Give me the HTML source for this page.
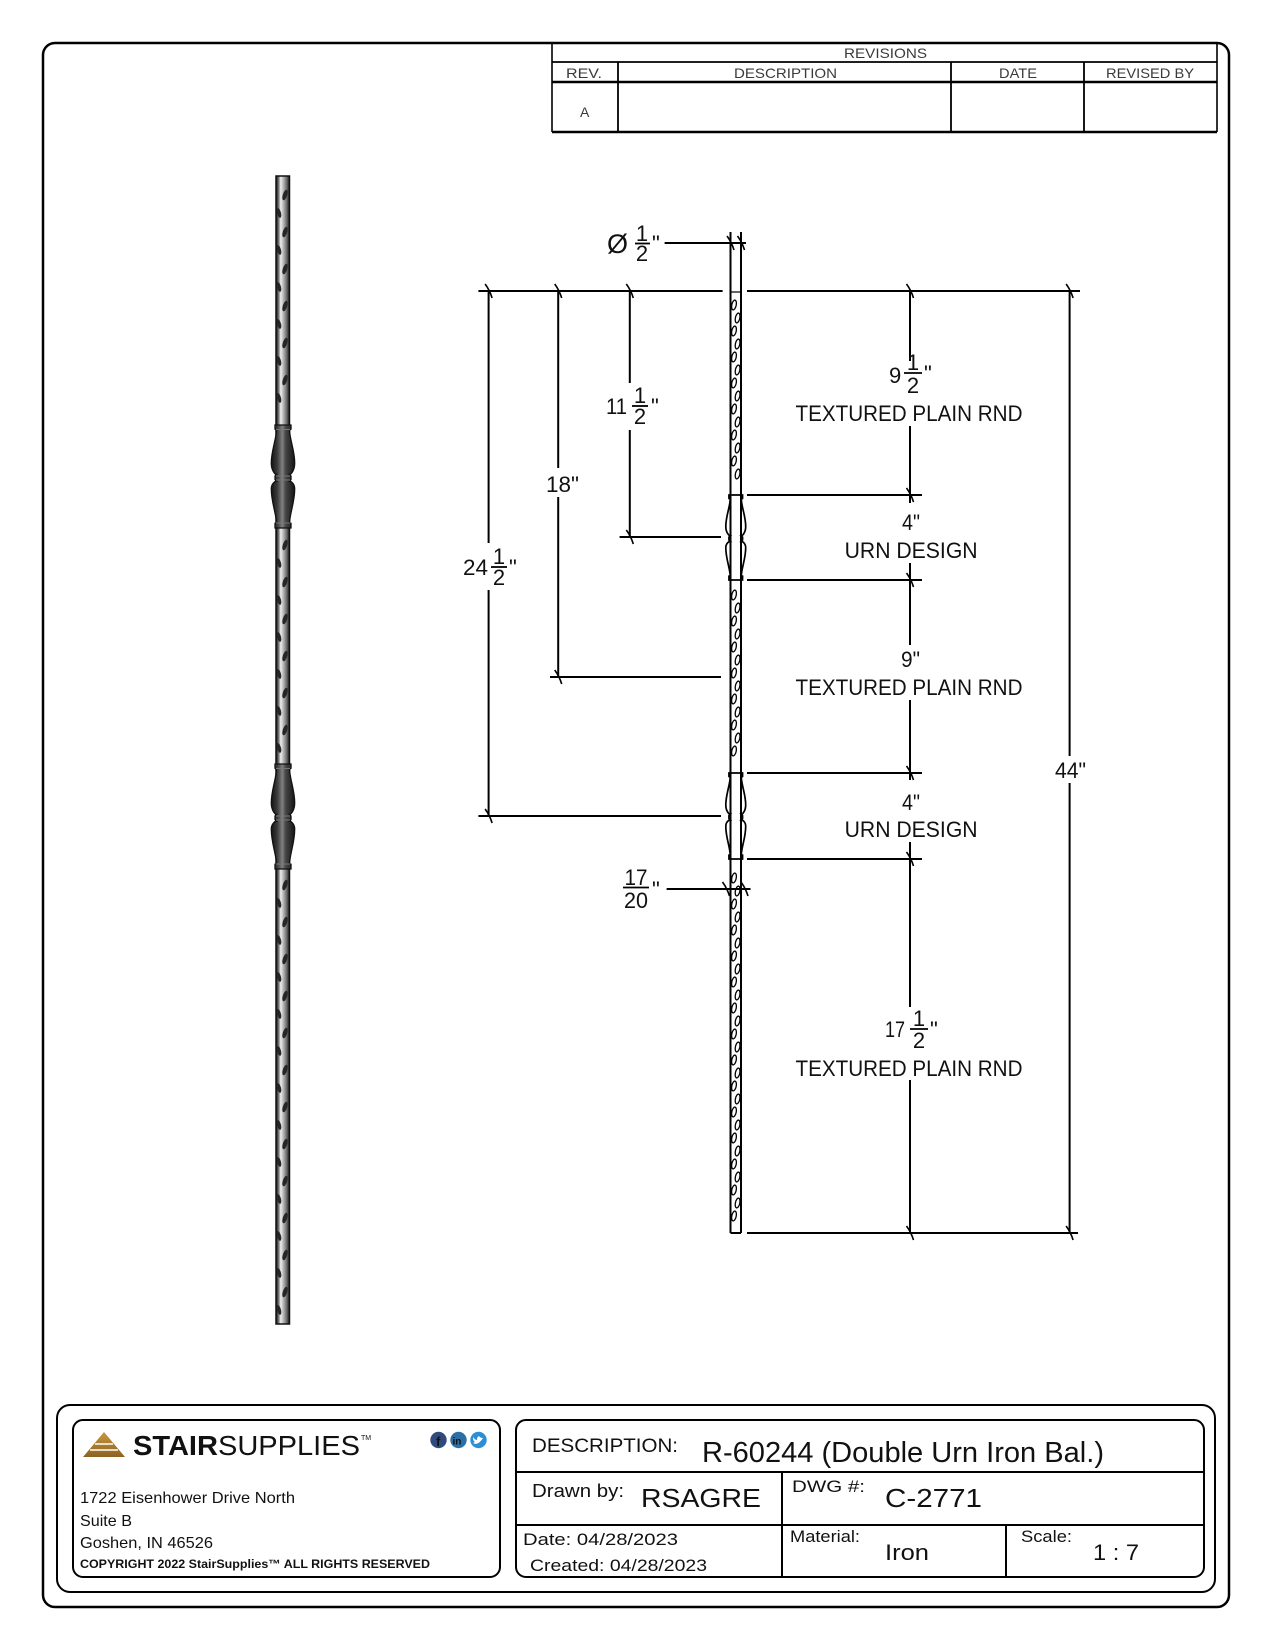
<!DOCTYPE html>
<html><head><meta charset="utf-8"><style>
html,body{margin:0;padding:0;background:#fff;}
svg{display:block;}
text{font-family:"Liberation Sans",Arial,sans-serif;fill:#111;}
.rv{fill:#3a3a3a;font-size:14px;}
.dm{font-size:22px;fill:#111;}
</style></head><body>
<svg width="1275" height="1650" viewBox="0 0 1275 1650" xmlns="http://www.w3.org/2000/svg">
<defs>
<linearGradient id="shaft" x1="0" x2="1" y1="0" y2="0">
<stop offset="0" stop-color="#1a1a1a"/><stop offset="0.15" stop-color="#555"/><stop offset="0.35" stop-color="#eee"/><stop offset="0.55" stop-color="#b5b5b5"/><stop offset="0.8" stop-color="#6a6a6a"/><stop offset="1" stop-color="#1a1a1a"/>
</linearGradient>
<linearGradient id="urnG" x1="0" x2="1" y1="0" y2="0">
<stop offset="0" stop-color="#151515"/><stop offset="0.25" stop-color="#3a3a3a"/><stop offset="0.47" stop-color="#808080"/><stop offset="0.62" stop-color="#454545"/><stop offset="1" stop-color="#151515"/>
</linearGradient>
<linearGradient id="gold" x1="0" x2="0" y1="0" y2="1">
<stop offset="0" stop-color="#c9973d"/><stop offset="1" stop-color="#8c6322"/>
</linearGradient>
<path id="urn" d="M0,0 L8,0 L8,4 L6.5,5 C7,15 11.7,25 11.7,37 C11.7,44 8,48 6.5,48 L8,49.5 L8,53 L6.5,54.5 C8,54.5 11.7,57 11.7,62 C11.7,75 7,85 6.5,95 L8,95.5 L8,100 L-8,100 L-8,95.5 L-6.5,95 C-7,85 -11.7,75 -11.7,62 C-11.7,57 -8,54.5 -6.5,54.5 L-8,53 L-8,49.5 L-6.5,48 C-8,48 -11.7,44 -11.7,37 C-11.7,25 -7,15 -6.5,5 L-8,4 L-8,0 Z"/>
<path id="tk" d="M-3.5,-7 Q1,-1 3.5,7" stroke="#000" stroke-width="1.6" fill="none"/>
</defs>

<!-- outer border -->
<rect x="43" y="43" width="1186" height="1564" rx="12" ry="12" fill="none" stroke="#000" stroke-width="2.5"/>

<!-- revisions table -->
<g stroke="#000" fill="none">
<line x1="552" y1="43" x2="552" y2="132" stroke-width="1.6"/>
<line x1="1217" y1="43" x2="1217" y2="132" stroke-width="1.6"/>
<line x1="552" y1="62" x2="1217" y2="62" stroke-width="1.8"/>
<line x1="552" y1="82" x2="1217" y2="82" stroke-width="2.5"/>
<line x1="552" y1="132" x2="1217" y2="132" stroke-width="2.5"/>
<line x1="618" y1="62" x2="618" y2="132" stroke-width="1.8"/>
<line x1="951" y1="62" x2="951" y2="132" stroke-width="1.8"/>
<line x1="1084" y1="62" x2="1084" y2="132" stroke-width="1.8"/>
</g>
<text class="rv" x="844" y="58" textLength="83" lengthAdjust="spacingAndGlyphs">REVISIONS</text>
<text class="rv" x="566" y="78" textLength="36" lengthAdjust="spacingAndGlyphs">REV.</text>
<text class="rv" x="734" y="78" textLength="103" lengthAdjust="spacingAndGlyphs">DESCRIPTION</text>
<text class="rv" x="999" y="78" textLength="38" lengthAdjust="spacingAndGlyphs">DATE</text>
<text class="rv" x="1106" y="78" textLength="88" lengthAdjust="spacingAndGlyphs">REVISED BY</text>
<text class="rv" x="580" y="117" font-size="15">A</text>

<!-- LEFT shaded baluster -->
<rect x="276" y="176" width="13.5" height="1148" fill="url(#shaft)" stroke="#111" stroke-width="1.5"/>
<g fill="#262626">
<ellipse cx="285" cy="195" rx="2.2" ry="5.5" transform="rotate(18 285 195)"/>
<ellipse cx="279" cy="213" rx="2" ry="5" transform="rotate(-15 279 213)"/>
<ellipse cx="285" cy="232" rx="2.2" ry="5.5" transform="rotate(18 285 232)"/>
<ellipse cx="279" cy="250" rx="2" ry="5" transform="rotate(-15 279 250)"/>
<ellipse cx="285" cy="269" rx="2.2" ry="5.5" transform="rotate(18 285 269)"/>
<ellipse cx="279" cy="287" rx="2" ry="5" transform="rotate(-15 279 287)"/>
<ellipse cx="285" cy="306" rx="2.2" ry="5.5" transform="rotate(18 285 306)"/>
<ellipse cx="279" cy="324" rx="2" ry="5" transform="rotate(-15 279 324)"/>
<ellipse cx="285" cy="343" rx="2.2" ry="5.5" transform="rotate(18 285 343)"/>
<ellipse cx="279" cy="361" rx="2" ry="5" transform="rotate(-15 279 361)"/>
<ellipse cx="285" cy="380" rx="2.2" ry="5.5" transform="rotate(18 285 380)"/>
<ellipse cx="279" cy="398" rx="2" ry="5" transform="rotate(-15 279 398)"/>
<ellipse cx="285" cy="545" rx="2.2" ry="5.5" transform="rotate(18 285 545)"/>
<ellipse cx="279" cy="563" rx="2" ry="5" transform="rotate(-15 279 563)"/>
<ellipse cx="285" cy="582" rx="2.2" ry="5.5" transform="rotate(18 285 582)"/>
<ellipse cx="279" cy="600" rx="2" ry="5" transform="rotate(-15 279 600)"/>
<ellipse cx="285" cy="619" rx="2.2" ry="5.5" transform="rotate(18 285 619)"/>
<ellipse cx="279" cy="637" rx="2" ry="5" transform="rotate(-15 279 637)"/>
<ellipse cx="285" cy="656" rx="2.2" ry="5.5" transform="rotate(18 285 656)"/>
<ellipse cx="279" cy="674" rx="2" ry="5" transform="rotate(-15 279 674)"/>
<ellipse cx="285" cy="693" rx="2.2" ry="5.5" transform="rotate(18 285 693)"/>
<ellipse cx="279" cy="711" rx="2" ry="5" transform="rotate(-15 279 711)"/>
<ellipse cx="285" cy="730" rx="2.2" ry="5.5" transform="rotate(18 285 730)"/>
<ellipse cx="279" cy="748" rx="2" ry="5" transform="rotate(-15 279 748)"/>
<ellipse cx="285" cy="885" rx="2.2" ry="5.5" transform="rotate(18 285 885)"/>
<ellipse cx="279" cy="903" rx="2" ry="5" transform="rotate(-15 279 903)"/>
<ellipse cx="285" cy="922" rx="2.2" ry="5.5" transform="rotate(18 285 922)"/>
<ellipse cx="279" cy="940" rx="2" ry="5" transform="rotate(-15 279 940)"/>
<ellipse cx="285" cy="959" rx="2.2" ry="5.5" transform="rotate(18 285 959)"/>
<ellipse cx="279" cy="977" rx="2" ry="5" transform="rotate(-15 279 977)"/>
<ellipse cx="285" cy="996" rx="2.2" ry="5.5" transform="rotate(18 285 996)"/>
<ellipse cx="279" cy="1014" rx="2" ry="5" transform="rotate(-15 279 1014)"/>
<ellipse cx="285" cy="1033" rx="2.2" ry="5.5" transform="rotate(18 285 1033)"/>
<ellipse cx="279" cy="1051" rx="2" ry="5" transform="rotate(-15 279 1051)"/>
<ellipse cx="285" cy="1070" rx="2.2" ry="5.5" transform="rotate(18 285 1070)"/>
<ellipse cx="279" cy="1088" rx="2" ry="5" transform="rotate(-15 279 1088)"/>
<ellipse cx="285" cy="1107" rx="2.2" ry="5.5" transform="rotate(18 285 1107)"/>
<ellipse cx="279" cy="1125" rx="2" ry="5" transform="rotate(-15 279 1125)"/>
<ellipse cx="285" cy="1144" rx="2.2" ry="5.5" transform="rotate(18 285 1144)"/>
<ellipse cx="279" cy="1162" rx="2" ry="5" transform="rotate(-15 279 1162)"/>
<ellipse cx="285" cy="1181" rx="2.2" ry="5.5" transform="rotate(18 285 1181)"/>
<ellipse cx="279" cy="1199" rx="2" ry="5" transform="rotate(-15 279 1199)"/>
<ellipse cx="285" cy="1218" rx="2.2" ry="5.5" transform="rotate(18 285 1218)"/>
<ellipse cx="279" cy="1236" rx="2" ry="5" transform="rotate(-15 279 1236)"/>
<ellipse cx="285" cy="1255" rx="2.2" ry="5.5" transform="rotate(18 285 1255)"/>
<ellipse cx="279" cy="1273" rx="2" ry="5" transform="rotate(-15 279 1273)"/>
<ellipse cx="285" cy="1292" rx="2.2" ry="5.5" transform="rotate(18 285 1292)"/>
<ellipse cx="279" cy="1310" rx="2" ry="5" transform="rotate(-15 279 1310)"/>
</g>
<use href="#urn" transform="translate(283 425) scale(1 1.03)" fill="url(#urnG)" stroke="#111" stroke-width="1.3" vector-effect="non-scaling-stroke"/>
<use href="#urn" transform="translate(283 764) scale(1 1.05)" fill="url(#urnG)" stroke="#111" stroke-width="1.3" vector-effect="non-scaling-stroke"/>
<g stroke="#777" stroke-width="1">
<line x1="276" y1="429.5" x2="290" y2="429.5"/><line x1="276" y1="476" x2="290" y2="476"/><line x1="276" y1="480" x2="290" y2="480"/><line x1="276" y1="523" x2="290" y2="523"/>
<line x1="276" y1="768.5" x2="290" y2="768.5"/><line x1="276" y1="816" x2="290" y2="816"/><line x1="276" y1="820" x2="290" y2="820"/><line x1="276" y1="864" x2="290" y2="864"/>
</g>

<!-- RIGHT line baluster -->
<g stroke="#000" fill="none" stroke-width="2">
<line x1="730.5" y1="232" x2="730.5" y2="1233"/>
<line x1="741" y1="232" x2="741" y2="1233"/>
<line x1="730.5" y1="1233" x2="741" y2="1233"/>
<line x1="730.5" y1="292" x2="741" y2="292" stroke-width="1.2"/>
</g>
<use href="#urn" transform="translate(735.75 495) scale(0.85 0.85)" fill="none" stroke="#000" stroke-width="2" vector-effect="non-scaling-stroke"/>
<use href="#urn" transform="translate(735.75 773) scale(0.85 0.86)" fill="none" stroke="#000" stroke-width="2" vector-effect="non-scaling-stroke"/>
<g fill="#fff" stroke="#000" stroke-width="1.3">
<ellipse cx="734" cy="305" rx="2.2" ry="5" transform="rotate(12 734 305)"/><ellipse cx="737.6" cy="318" rx="2.2" ry="5" transform="rotate(12 737.6 318)"/><ellipse cx="734" cy="331" rx="2.2" ry="5" transform="rotate(12 734 331)"/><ellipse cx="737.6" cy="344" rx="2.2" ry="5" transform="rotate(12 737.6 344)"/>
<ellipse cx="734" cy="357" rx="2.2" ry="5" transform="rotate(12 734 357)"/><ellipse cx="737.6" cy="370" rx="2.2" ry="5" transform="rotate(12 737.6 370)"/><ellipse cx="734" cy="383" rx="2.2" ry="5" transform="rotate(12 734 383)"/><ellipse cx="737.6" cy="396" rx="2.2" ry="5" transform="rotate(12 737.6 396)"/>
<ellipse cx="734" cy="409" rx="2.2" ry="5" transform="rotate(12 734 409)"/><ellipse cx="737.6" cy="422" rx="2.2" ry="5" transform="rotate(12 737.6 422)"/><ellipse cx="734" cy="435" rx="2.2" ry="5" transform="rotate(12 734 435)"/><ellipse cx="737.6" cy="448" rx="2.2" ry="5" transform="rotate(12 737.6 448)"/>
<ellipse cx="734" cy="461" rx="2.2" ry="5" transform="rotate(12 734 461)"/><ellipse cx="737.6" cy="474" rx="2.2" ry="5" transform="rotate(12 737.6 474)"/>
<ellipse cx="734" cy="595" rx="2.2" ry="5" transform="rotate(12 734 595)"/><ellipse cx="737.6" cy="608" rx="2.2" ry="5" transform="rotate(12 737.6 608)"/><ellipse cx="734" cy="621" rx="2.2" ry="5" transform="rotate(12 734 621)"/><ellipse cx="737.6" cy="634" rx="2.2" ry="5" transform="rotate(12 737.6 634)"/>
<ellipse cx="734" cy="647" rx="2.2" ry="5" transform="rotate(12 734 647)"/><ellipse cx="737.6" cy="660" rx="2.2" ry="5" transform="rotate(12 737.6 660)"/><ellipse cx="734" cy="673" rx="2.2" ry="5" transform="rotate(12 734 673)"/><ellipse cx="737.6" cy="686" rx="2.2" ry="5" transform="rotate(12 737.6 686)"/>
<ellipse cx="734" cy="699" rx="2.2" ry="5" transform="rotate(12 734 699)"/><ellipse cx="737.6" cy="712" rx="2.2" ry="5" transform="rotate(12 737.6 712)"/><ellipse cx="734" cy="725" rx="2.2" ry="5" transform="rotate(12 734 725)"/><ellipse cx="737.6" cy="738" rx="2.2" ry="5" transform="rotate(12 737.6 738)"/>
<ellipse cx="734" cy="751" rx="2.2" ry="5" transform="rotate(12 734 751)"/>
<ellipse cx="734" cy="878" rx="2.2" ry="5" transform="rotate(12 734 878)"/><ellipse cx="737.6" cy="891" rx="2.2" ry="5" transform="rotate(12 737.6 891)"/><ellipse cx="734" cy="904" rx="2.2" ry="5" transform="rotate(12 734 904)"/><ellipse cx="737.6" cy="917" rx="2.2" ry="5" transform="rotate(12 737.6 917)"/>
<ellipse cx="734" cy="930" rx="2.2" ry="5" transform="rotate(12 734 930)"/><ellipse cx="737.6" cy="943" rx="2.2" ry="5" transform="rotate(12 737.6 943)"/><ellipse cx="734" cy="956" rx="2.2" ry="5" transform="rotate(12 734 956)"/><ellipse cx="737.6" cy="969" rx="2.2" ry="5" transform="rotate(12 737.6 969)"/>
<ellipse cx="734" cy="982" rx="2.2" ry="5" transform="rotate(12 734 982)"/><ellipse cx="737.6" cy="995" rx="2.2" ry="5" transform="rotate(12 737.6 995)"/><ellipse cx="734" cy="1008" rx="2.2" ry="5" transform="rotate(12 734 1008)"/><ellipse cx="737.6" cy="1021" rx="2.2" ry="5" transform="rotate(12 737.6 1021)"/>
<ellipse cx="734" cy="1034" rx="2.2" ry="5" transform="rotate(12 734 1034)"/><ellipse cx="737.6" cy="1047" rx="2.2" ry="5" transform="rotate(12 737.6 1047)"/><ellipse cx="734" cy="1060" rx="2.2" ry="5" transform="rotate(12 734 1060)"/><ellipse cx="737.6" cy="1073" rx="2.2" ry="5" transform="rotate(12 737.6 1073)"/>
<ellipse cx="734" cy="1086" rx="2.2" ry="5" transform="rotate(12 734 1086)"/><ellipse cx="737.6" cy="1099" rx="2.2" ry="5" transform="rotate(12 737.6 1099)"/><ellipse cx="734" cy="1112" rx="2.2" ry="5" transform="rotate(12 734 1112)"/><ellipse cx="737.6" cy="1125" rx="2.2" ry="5" transform="rotate(12 737.6 1125)"/>
<ellipse cx="734" cy="1138" rx="2.2" ry="5" transform="rotate(12 734 1138)"/><ellipse cx="737.6" cy="1151" rx="2.2" ry="5" transform="rotate(12 737.6 1151)"/><ellipse cx="734" cy="1164" rx="2.2" ry="5" transform="rotate(12 734 1164)"/><ellipse cx="737.6" cy="1177" rx="2.2" ry="5" transform="rotate(12 737.6 1177)"/>
<ellipse cx="734" cy="1190" rx="2.2" ry="5" transform="rotate(12 734 1190)"/><ellipse cx="737.6" cy="1203" rx="2.2" ry="5" transform="rotate(12 737.6 1203)"/><ellipse cx="734" cy="1216" rx="2.2" ry="5" transform="rotate(12 734 1216)"/>
</g>

<!-- dimension lines -->
<g stroke="#000" stroke-width="2" fill="none">
<line x1="478.4" y1="291" x2="722.6" y2="291"/>
<line x1="747" y1="291" x2="1080" y2="291"/>
<line x1="747" y1="495" x2="922" y2="495"/>
<line x1="747" y1="580" x2="922" y2="580"/>
<line x1="747" y1="773" x2="922" y2="773"/>
<line x1="747" y1="859" x2="922" y2="859"/>
<line x1="747" y1="1233" x2="1078" y2="1233"/>
<line x1="619.6" y1="537" x2="721" y2="537"/>
<line x1="550" y1="677" x2="721" y2="677"/>
<line x1="478.4" y1="816" x2="721" y2="816"/>
<line x1="664.6" y1="243" x2="746" y2="243"/>
<line x1="666.6" y1="889" x2="750.5" y2="889"/>
<line x1="488.6" y1="291" x2="488.6" y2="543"/><line x1="488.6" y1="590" x2="488.6" y2="816"/>
<line x1="558.2" y1="291" x2="558.2" y2="468"/><line x1="558.2" y1="497" x2="558.2" y2="677"/>
<line x1="629.8" y1="291" x2="629.8" y2="383"/><line x1="629.8" y1="430" x2="629.8" y2="537"/>
<line x1="910" y1="291" x2="910" y2="361"/><line x1="910" y1="426" x2="910" y2="503"/>
<line x1="910" y1="563" x2="910" y2="645"/><line x1="910" y1="700" x2="910" y2="780"/>
<line x1="910" y1="842" x2="910" y2="1007"/><line x1="910" y1="1080" x2="910" y2="1233"/>
<line x1="1069.6" y1="291" x2="1069.6" y2="756"/><line x1="1069.6" y1="783" x2="1069.6" y2="1233"/>
</g>
<use href="#tk" x="488.6" y="291"/><use href="#tk" x="558.2" y="291"/><use href="#tk" x="629.8" y="291"/><use href="#tk" x="910" y="291"/><use href="#tk" x="1069.6" y="291"/>
<use href="#tk" x="488.6" y="816"/><use href="#tk" x="558.2" y="677"/><use href="#tk" x="629.8" y="537"/>
<use href="#tk" x="910" y="495"/><use href="#tk" x="910" y="580"/><use href="#tk" x="910" y="773"/><use href="#tk" x="910" y="859"/><use href="#tk" x="910" y="1233"/><use href="#tk" x="1069.6" y="1233"/>
<use href="#tk" x="730.5" y="243"/><use href="#tk" x="741" y="243"/>
<use href="#tk" x="726" y="889"/><use href="#tk" x="744.5" y="889"/>

<!-- dimension text -->
<g stroke="#000" stroke-width="1.8">
<line x1="635" y1="243.5" x2="650" y2="243.5"/>
<line x1="632" y1="406" x2="648" y2="406"/>
<line x1="491" y1="567" x2="507" y2="567"/>
<line x1="904" y1="373" x2="922" y2="373"/>
<line x1="910" y1="1029" x2="928" y2="1029"/>
<line x1="623" y1="887.5" x2="649" y2="887.5"/>
</g>
<text x="607" y="253" font-size="27" fill="#111">Ø</text>
<text class="dm" x="642" y="241" text-anchor="middle" font-size="21">1</text>
<text class="dm" x="642" y="261" text-anchor="middle" font-size="21">2</text>
<text class="dm" x="652" y="251">"</text>

<text class="dm" x="606" y="414" textLength="21" lengthAdjust="spacingAndGlyphs">11</text>
<text class="dm" x="640" y="403" text-anchor="middle">1</text>
<text class="dm" x="640" y="424" text-anchor="middle">2</text>
<text class="dm" x="651" y="414">"</text>

<text class="dm" x="546" y="492" textLength="33" lengthAdjust="spacingAndGlyphs">18"</text>

<text class="dm" x="463" y="575" textLength="25" lengthAdjust="spacingAndGlyphs">24</text>
<text class="dm" x="499" y="564" text-anchor="middle">1</text>
<text class="dm" x="499" y="585" text-anchor="middle">2</text>
<text class="dm" x="509" y="575">"</text>

<text class="dm" x="889" y="383">9</text>
<text class="dm" x="913" y="370" text-anchor="middle">1</text>
<text class="dm" x="913" y="393" text-anchor="middle">2</text>
<text class="dm" x="924" y="381">"</text>
<text class="dm" x="795.5" y="421" font-size="23" textLength="227" lengthAdjust="spacingAndGlyphs">TEXTURED PLAIN RND</text>

<text class="dm" x="902" y="530" textLength="18" lengthAdjust="spacingAndGlyphs">4"</text>
<text class="dm" x="844.6" y="558" font-size="23" textLength="133" lengthAdjust="spacingAndGlyphs">URN DESIGN</text>

<text class="dm" x="901" y="667" textLength="19" lengthAdjust="spacingAndGlyphs">9"</text>
<text class="dm" x="795.5" y="695" font-size="23" textLength="227" lengthAdjust="spacingAndGlyphs">TEXTURED PLAIN RND</text>

<text class="dm" x="902" y="810" textLength="18" lengthAdjust="spacingAndGlyphs">4"</text>
<text class="dm" x="844.6" y="837" font-size="23" textLength="133" lengthAdjust="spacingAndGlyphs">URN DESIGN</text>

<text class="dm" x="885" y="1037" textLength="20" lengthAdjust="spacingAndGlyphs">17</text>
<text class="dm" x="919" y="1026" text-anchor="middle">1</text>
<text class="dm" x="919" y="1048" text-anchor="middle">2</text>
<text class="dm" x="930" y="1037">"</text>
<text class="dm" x="795.5" y="1076" font-size="23" textLength="227" lengthAdjust="spacingAndGlyphs">TEXTURED PLAIN RND</text>

<text class="dm" x="1055" y="778" textLength="31" lengthAdjust="spacingAndGlyphs">44"</text>

<text class="dm" x="636" y="885" text-anchor="middle" textLength="23" lengthAdjust="spacingAndGlyphs">17</text>
<text class="dm" x="636" y="908" text-anchor="middle" textLength="24" lengthAdjust="spacingAndGlyphs">20</text>
<text class="dm" x="652" y="897">"</text>

<!-- title block -->
<g fill="none" stroke="#000" stroke-width="2">
<rect x="57" y="1405" width="1158" height="187" rx="13" ry="13"/>
<rect x="73" y="1420" width="427" height="157" rx="10" ry="10"/>
<rect x="516" y="1420" width="688" height="157" rx="10" ry="10"/>
<line x1="516" y1="1472" x2="1204" y2="1472"/>
<line x1="516" y1="1525" x2="1204" y2="1525"/>
<line x1="782" y1="1472" x2="782" y2="1577"/>
<line x1="1006" y1="1525" x2="1006" y2="1577"/>
</g>

<!-- logo -->
<polygon points="83,1457 104,1432 125,1457" fill="url(#gold)"/>
<g stroke="#fff" stroke-width="1.6">
<line x1="95" y1="1444" x2="113" y2="1444"/>
<line x1="90" y1="1450" x2="118" y2="1450"/>
</g>
<text x="133" y="1455" font-size="28" fill="#2a2a2a" textLength="227" lengthAdjust="spacingAndGlyphs"><tspan font-weight="bold">STAIR</tspan>SUPPLIES</text>
<text x="361" y="1440" font-size="7" fill="#2a2a2a">TM</text>
<circle cx="438.5" cy="1440" r="8.2" fill="#2f4a7e"/>
<circle cx="458.5" cy="1440" r="8.2" fill="#2c6fa6"/>
<circle cx="478.5" cy="1440" r="8.2" fill="#2a8fd6"/>
<text x="436" y="1446" font-size="13" font-weight="bold" fill="#fff">f</text>
<text x="452.5" y="1444.5" font-size="10" font-weight="bold" fill="#fff">in</text>
<path d="M473,1443 Q478,1446 483,1438 Q480,1438 479,1436 Q477,1437 477,1440 Q475,1440 473,1437 Q473,1441 475,1442 Z" fill="#fff"/>

<text x="80" y="1503" font-size="16" textLength="215" lengthAdjust="spacingAndGlyphs">1722 Eisenhower Drive North</text>
<text x="80" y="1526" font-size="16" textLength="52" lengthAdjust="spacingAndGlyphs">Suite B</text>
<text x="80" y="1548" font-size="16" textLength="133" lengthAdjust="spacingAndGlyphs">Goshen, IN 46526</text>
<text x="80" y="1568" font-size="12" font-weight="bold" textLength="350" lengthAdjust="spacingAndGlyphs">COPYRIGHT 2022 StairSupplies™ ALL RIGHTS RESERVED</text>

<text x="532" y="1452" font-size="19" textLength="146" lengthAdjust="spacingAndGlyphs">DESCRIPTION:</text>
<text x="702" y="1462" font-size="29" textLength="402" lengthAdjust="spacingAndGlyphs">R-60244 (Double Urn Iron Bal.)</text>
<text x="532" y="1497" font-size="18" textLength="92" lengthAdjust="spacingAndGlyphs">Drawn by:</text>
<text x="641" y="1507" font-size="26" textLength="120" lengthAdjust="spacingAndGlyphs">RSAGRE</text>
<text x="792" y="1492" font-size="17" textLength="73" lengthAdjust="spacingAndGlyphs">DWG #:</text>
<text x="885" y="1507" font-size="26" textLength="97" lengthAdjust="spacingAndGlyphs">C-2771</text>
<text x="523" y="1545" font-size="17" textLength="155" lengthAdjust="spacingAndGlyphs">Date: 04/28/2023</text>
<text x="530" y="1571" font-size="17" textLength="177" lengthAdjust="spacingAndGlyphs">Created: 04/28/2023</text>
<text x="790" y="1542" font-size="17" textLength="70" lengthAdjust="spacingAndGlyphs">Material:</text>
<text x="885" y="1560" font-size="22" textLength="44" lengthAdjust="spacingAndGlyphs">Iron</text>
<text x="1021" y="1542" font-size="17" textLength="51" lengthAdjust="spacingAndGlyphs">Scale:</text>
<text x="1093" y="1560" font-size="22" textLength="46" lengthAdjust="spacingAndGlyphs">1 : 7</text>
</svg>
</body></html>
